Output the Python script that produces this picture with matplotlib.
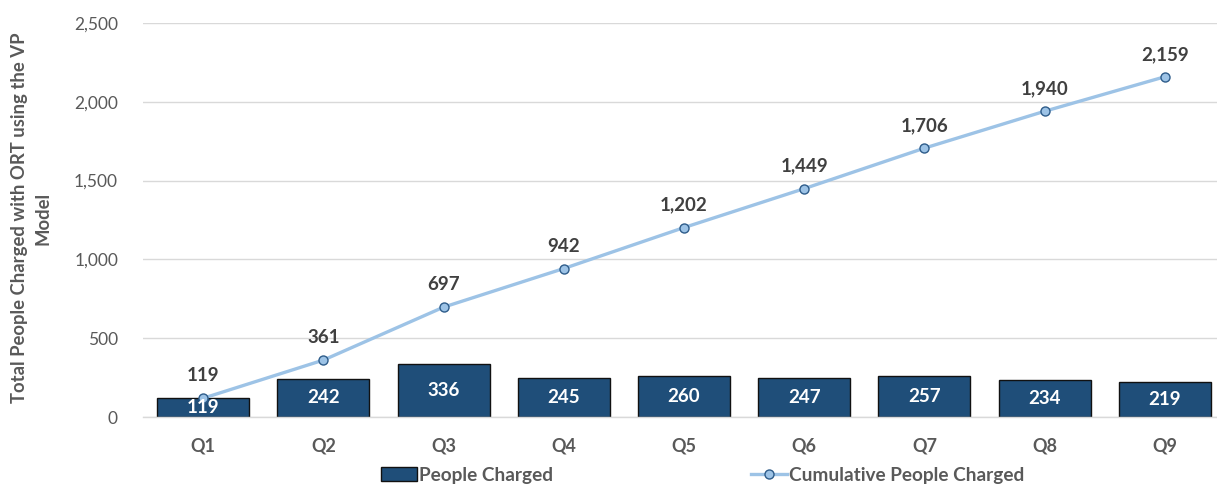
import matplotlib
matplotlib.use("Agg")
import matplotlib.pyplot as plt
import numpy as np

categories = ["Q1", "Q2", "Q3", "Q4", "Q5", "Q6", "Q7", "Q8", "Q9"]
people_charged = [119, 242, 336, 245, 260, 247, 257, 234, 219]
cumulative = [119, 361, 697, 942, 1202, 1449, 1706, 1940, 2159]
yticks = [0, 500, 1000, 1500, 2000, 2500]

plt.rcParams['font.family'] = ['Lato', 'DejaVu Sans']

W, H = 1217, 487
fig = plt.figure(figsize=(W/100, H/100), dpi=100)
ax = fig.add_axes([143/W, 70/H, 1082/W, 394/H])

x = np.arange(len(categories))
bar_color = "#1F4E79"
line_color = "#9DC3E6"
text_dark = "#404040"
text_grey = "#595959"

bars = ax.bar(x, people_charged, width=0.765, color=bar_color, edgecolor="#111111",
              linewidth=1.0, label="People Charged", zorder=2)
line, = ax.plot(x, cumulative, color=line_color, linewidth=2.4, marker="o",
                markersize=6.5, markerfacecolor=line_color, markeredgecolor="#2E5C8A",
                markeredgewidth=1.0, label="Cumulative People Charged", zorder=3)

for xi, v in zip(x, people_charged):
    ax.text(xi, v / 2, f"{v:,}", ha="center", va="center", color="white",
            fontsize=13.5, fontweight="bold", zorder=4)
for xi, v in zip(x, cumulative):
    ax.annotate(f"{v:,}", (xi, v), xytext=(0, 10), textcoords="offset points",
                ha="center", va="bottom", color=text_dark, fontsize=13.5,
                fontweight="bold", zorder=4)

ax.set_xlim(-0.5, len(categories) - 0.5)
ax.set_ylim(0, 2500)
ax.set_yticks(yticks)
ax.set_yticklabels([f"{t:,}" for t in yticks], fontsize=12.5, color=text_grey)
ax.set_xticks(x)
ax.set_xticklabels(categories, fontsize=13, fontweight="bold", color=text_grey)
ax.tick_params(axis="both", length=0)
ax.tick_params(axis="y", pad=18)
ax.tick_params(axis="x", pad=15)

ax.grid(axis="y", color="#D9D9D9", linewidth=1.0, zorder=0)
ax.set_axisbelow(True)
for s in ["top", "right", "left"]:
    ax.spines[s].set_visible(False)
ax.spines["bottom"].set_color("#D9D9D9")
ax.spines["bottom"].set_linewidth(1.0)

fig.text(31/W, (70 + 394/2 + 2)/H, "Total People Charged with ORT using the VP\nModel",
         rotation=90, ha="center", va="center", fontsize=13.3, fontweight="bold",
         color=text_grey, linespacing=1.45)

leg = fig.legend(handles=[bars, line], loc="center", bbox_to_anchor=(703/W, 1 - 475/H),
                 ncol=2, frameon=False, columnspacing=10.4, handlelength=1.85,
                 handletextpad=0.15, prop={"size": 13.7, "weight": "bold"})
for t in leg.get_texts():
    t.set_color(text_grey)

fig.savefig("out.png", dpi=100)
